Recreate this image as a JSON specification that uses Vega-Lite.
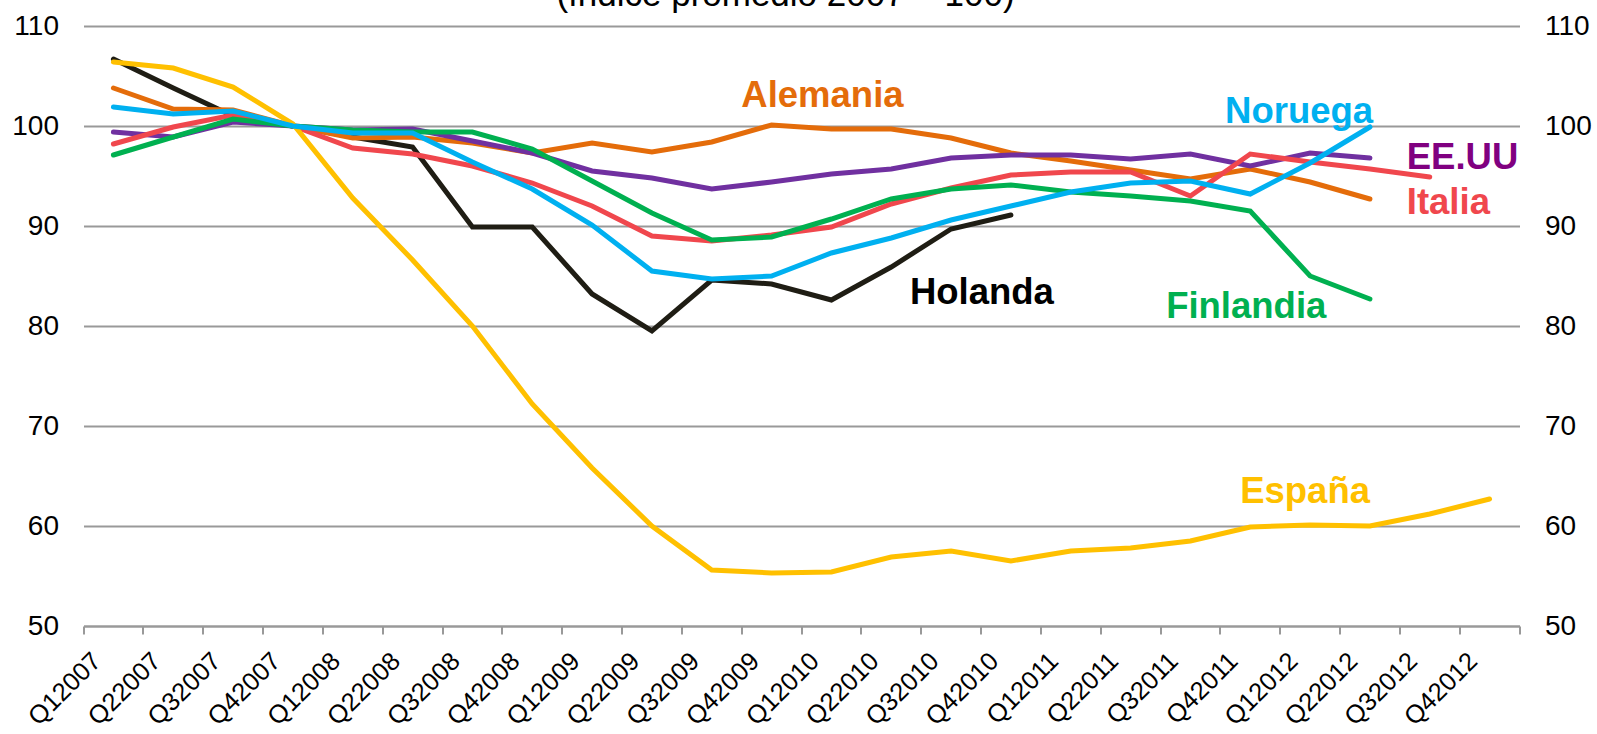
{
  "$schema": "https://vega.github.io/schema/vega-lite/v6.json",
  "width": 1436,
  "height": 600,
  "autosize": {"type": "none"},
  "padding": {"left": 83.5, "top": 26, "right": 77.5, "bottom": 108},
  "background": "#ffffff",
  "title": {"text": "(índice promedio 2007 = 100)", "font": "Liberation Sans", "fontSize": 35, "fontWeight": "normal", "color": "#000000", "anchor": "middle", "dx": -16, "offset": -1},
  "config": {
    "view": {"stroke": null},
    "axis": {"labelFont": "Liberation Sans", "labelColor": "#000000", "title": null}
  },
  "datasets": {
    "series": [
      {"p":"Holanda","q":"Q12007","v":106.7},{"p":"Holanda","q":"Q22007","v":103.8},{"p":"Holanda","q":"Q32007","v":101.0},{"p":"Holanda","q":"Q42007","v":100.0},{"p":"Holanda","q":"Q12008","v":98.9},{"p":"Holanda","q":"Q22008","v":97.9},{"p":"Holanda","q":"Q32008","v":89.9},{"p":"Holanda","q":"Q42008","v":89.9},{"p":"Holanda","q":"Q12009","v":83.2},{"p":"Holanda","q":"Q22009","v":79.5},{"p":"Holanda","q":"Q32009","v":84.6},{"p":"Holanda","q":"Q42009","v":84.2},{"p":"Holanda","q":"Q12010","v":82.6},{"p":"Holanda","q":"Q22010","v":85.9},{"p":"Holanda","q":"Q32010","v":89.7},{"p":"Holanda","q":"Q42010","v":91.1},
      {"p":"Alemania","q":"Q12007","v":103.8},{"p":"Alemania","q":"Q22007","v":101.7},{"p":"Alemania","q":"Q32007","v":101.6},{"p":"Alemania","q":"Q42007","v":100.0},{"p":"Alemania","q":"Q12008","v":98.8},{"p":"Alemania","q":"Q22008","v":98.9},{"p":"Alemania","q":"Q32008","v":98.3},{"p":"Alemania","q":"Q42008","v":97.3},{"p":"Alemania","q":"Q12009","v":98.3},{"p":"Alemania","q":"Q22009","v":97.4},{"p":"Alemania","q":"Q32009","v":98.4},{"p":"Alemania","q":"Q42009","v":100.1},{"p":"Alemania","q":"Q12010","v":99.7},{"p":"Alemania","q":"Q22010","v":99.7},{"p":"Alemania","q":"Q32010","v":98.8},{"p":"Alemania","q":"Q42010","v":97.3},{"p":"Alemania","q":"Q12011","v":96.5},{"p":"Alemania","q":"Q22011","v":95.6},{"p":"Alemania","q":"Q32011","v":94.7},{"p":"Alemania","q":"Q42011","v":95.7},{"p":"Alemania","q":"Q12012","v":94.4},{"p":"Alemania","q":"Q22012","v":92.7},
      {"p":"EE.UU","q":"Q12007","v":99.4},{"p":"EE.UU","q":"Q22007","v":98.9},{"p":"EE.UU","q":"Q32007","v":100.4},{"p":"EE.UU","q":"Q42007","v":100.0},{"p":"EE.UU","q":"Q12008","v":99.6},{"p":"EE.UU","q":"Q22008","v":99.7},{"p":"EE.UU","q":"Q32008","v":98.5},{"p":"EE.UU","q":"Q42008","v":97.3},{"p":"EE.UU","q":"Q12009","v":95.5},{"p":"EE.UU","q":"Q22009","v":94.8},{"p":"EE.UU","q":"Q32009","v":93.7},{"p":"EE.UU","q":"Q42009","v":94.4},{"p":"EE.UU","q":"Q12010","v":95.2},{"p":"EE.UU","q":"Q22010","v":95.7},{"p":"EE.UU","q":"Q32010","v":96.8},{"p":"EE.UU","q":"Q42010","v":97.1},{"p":"EE.UU","q":"Q12011","v":97.1},{"p":"EE.UU","q":"Q22011","v":96.7},{"p":"EE.UU","q":"Q32011","v":97.2},{"p":"EE.UU","q":"Q42011","v":96.0},{"p":"EE.UU","q":"Q12012","v":97.3},{"p":"EE.UU","q":"Q22012","v":96.8},
      {"p":"Italia","q":"Q12007","v":98.2},{"p":"Italia","q":"Q22007","v":99.9},{"p":"Italia","q":"Q32007","v":101.1},{"p":"Italia","q":"Q42007","v":100.0},{"p":"Italia","q":"Q12008","v":97.8},{"p":"Italia","q":"Q22008","v":97.2},{"p":"Italia","q":"Q32008","v":96.0},{"p":"Italia","q":"Q42008","v":94.3},{"p":"Italia","q":"Q12009","v":92.0},{"p":"Italia","q":"Q22009","v":89.0},{"p":"Italia","q":"Q32009","v":88.5},{"p":"Italia","q":"Q42009","v":89.1},{"p":"Italia","q":"Q12010","v":89.9},{"p":"Italia","q":"Q22010","v":92.2},{"p":"Italia","q":"Q32010","v":93.8},{"p":"Italia","q":"Q42010","v":95.1},{"p":"Italia","q":"Q12011","v":95.4},{"p":"Italia","q":"Q22011","v":95.4},{"p":"Italia","q":"Q32011","v":93.0},{"p":"Italia","q":"Q42011","v":97.2},{"p":"Italia","q":"Q12012","v":96.4},{"p":"Italia","q":"Q22012","v":95.7},{"p":"Italia","q":"Q32012","v":94.9},
      {"p":"Finlandia","q":"Q12007","v":97.1},{"p":"Finlandia","q":"Q22007","v":98.9},{"p":"Finlandia","q":"Q32007","v":100.7},{"p":"Finlandia","q":"Q42007","v":100.0},{"p":"Finlandia","q":"Q12008","v":99.6},{"p":"Finlandia","q":"Q22008","v":99.4},{"p":"Finlandia","q":"Q32008","v":99.4},{"p":"Finlandia","q":"Q42008","v":97.7},{"p":"Finlandia","q":"Q12009","v":94.5},{"p":"Finlandia","q":"Q22009","v":91.3},{"p":"Finlandia","q":"Q32009","v":88.6},{"p":"Finlandia","q":"Q42009","v":88.9},{"p":"Finlandia","q":"Q12010","v":90.7},{"p":"Finlandia","q":"Q22010","v":92.7},{"p":"Finlandia","q":"Q32010","v":93.7},{"p":"Finlandia","q":"Q42010","v":94.1},{"p":"Finlandia","q":"Q12011","v":93.4},{"p":"Finlandia","q":"Q22011","v":93.0},{"p":"Finlandia","q":"Q32011","v":92.5},{"p":"Finlandia","q":"Q42011","v":91.5},{"p":"Finlandia","q":"Q12012","v":85.0},{"p":"Finlandia","q":"Q22012","v":82.7},
      {"p":"España","q":"Q12007","v":106.4},{"p":"España","q":"Q22007","v":105.8},{"p":"España","q":"Q32007","v":103.9},{"p":"España","q":"Q42007","v":100.2},{"p":"España","q":"Q12008","v":92.8},{"p":"España","q":"Q22008","v":86.6},{"p":"España","q":"Q32008","v":80.0},{"p":"España","q":"Q42008","v":72.2},{"p":"España","q":"Q12009","v":65.8},{"p":"España","q":"Q22009","v":60.0},{"p":"España","q":"Q32009","v":55.6},{"p":"España","q":"Q42009","v":55.3},{"p":"España","q":"Q12010","v":55.4},{"p":"España","q":"Q22010","v":56.9},{"p":"España","q":"Q32010","v":57.5},{"p":"España","q":"Q42010","v":56.5},{"p":"España","q":"Q12011","v":57.5},{"p":"España","q":"Q22011","v":57.8},{"p":"España","q":"Q32011","v":58.5},{"p":"España","q":"Q42011","v":59.9},{"p":"España","q":"Q12012","v":60.1},{"p":"España","q":"Q22012","v":60.0},{"p":"España","q":"Q32012","v":61.2},{"p":"España","q":"Q42012","v":62.7},
      {"p":"Noruega","q":"Q12007","v":101.9},{"p":"Noruega","q":"Q22007","v":101.2},{"p":"Noruega","q":"Q32007","v":101.5},{"p":"Noruega","q":"Q42007","v":100.0},{"p":"Noruega","q":"Q12008","v":99.3},{"p":"Noruega","q":"Q22008","v":99.3},{"p":"Noruega","q":"Q32008","v":96.4},{"p":"Noruega","q":"Q42008","v":93.7},{"p":"Noruega","q":"Q12009","v":90.1},{"p":"Noruega","q":"Q22009","v":85.5},{"p":"Noruega","q":"Q32009","v":84.7},{"p":"Noruega","q":"Q42009","v":85.0},{"p":"Noruega","q":"Q12010","v":87.3},{"p":"Noruega","q":"Q22010","v":88.8},{"p":"Noruega","q":"Q32010","v":90.6},{"p":"Noruega","q":"Q42010","v":92.0},{"p":"Noruega","q":"Q12011","v":93.4},{"p":"Noruega","q":"Q22011","v":94.3},{"p":"Noruega","q":"Q32011","v":94.5},{"p":"Noruega","q":"Q42011","v":93.2},{"p":"Noruega","q":"Q12012","v":96.3},{"p":"Noruega","q":"Q22012","v":99.9}
    ],
    "labels": [
      {"p":"Alemania","q":"Q12010","v":101.9},
      {"p":"Noruega","q":"Q12012","v":100.3},
      {"p":"EE.UU","q":"Q32012","v":95.7},
      {"p":"Italia","q":"Q32012","v":91.2},
      {"p":"Holanda","q":"Q42010","v":82.2},
      {"p":"Finlandia","q":"Q42011","v":80.8},
      {"p":"España","q":"Q12012","v":62.3}
    ]
  },
  "encoding": {
    "x": {
      "field": "q", "type": "ordinal", "bandPosition": 0.5,
      "scale": {"type": "band", "paddingInner": 0, "paddingOuter": 0,
        "domain": ["Q12007","Q22007","Q32007","Q42007","Q12008","Q22008","Q32008","Q42008","Q12009","Q22009","Q32009","Q42009","Q12010","Q22010","Q32010","Q42010","Q12011","Q22011","Q32011","Q42011","Q12012","Q22012","Q32012","Q42012"]},
      "axis": {"orient": "bottom", "bandPosition": 1, "tickExtra": true, "grid": false, "domain": true, "domainColor": "#999999", "domainWidth": 2, "ticks": true, "tickColor": "#999999", "tickWidth": 2, "tickSize": 8, "labelAngle": -45, "labelAlign": "right", "labelBaseline": "top", "labelFontSize": 25.5, "labelOffset": -25, "labelPadding": 14, "labelOverlap": false, "labelBound": false, "labelFlush": false}
    },
    "y": {
      "field": "v", "type": "quantitative",
      "scale": {"domain": [50, 110], "nice": false, "zero": false},
      "axis": {"orient": "left", "values": [50,60,70,80,90,100,110], "grid": true, "gridColor": "#999999", "gridWidth": 2, "domain": false, "ticks": false, "tickSize": 0, "labelPadding": 25, "labelFontSize": 28}
    }
  },
  "resolve": {"axis": {"y": "independent"}},
  "layer": [
    {
      "data": {"name": "series"},
      "mark": {"type": "line", "strokeWidth": 5, "strokeCap": "round"},
      "encoding": {
        "stroke": {"field": "p", "type": "nominal", "legend": null,
          "scale": {"domain": ["Holanda","Alemania","EE.UU","Italia","Finlandia","España","Noruega"],
                    "range": ["#1F1D14","#E46C0A","#7030A0","#F0474D","#00B050","#FFC000","#00B0F0"]}}
      }
    },
    {
      "data": {"name": "series"},
      "mark": {"type": "point", "opacity": 0},
      "encoding": {
        "y": {"field": "v", "type": "quantitative", "scale": {"domain": [50, 110], "nice": false, "zero": false},
          "axis": {"orient": "right", "values": [50,60,70,80,90,100,110], "grid": false, "domain": false, "ticks": false, "tickSize": 0, "labelPadding": 25, "labelFontSize": 28}}
      }
    },
    {
      "data": {"name": "labels"},
      "transform": [{"filter": "datum.p === 'Alemania'"}],
      "mark": {"type": "text", "font": "Liberation Sans", "fontWeight": "bold", "fontSize": 36.5, "baseline": "alphabetic", "align": "center", "dx": -9, "color": "#E46C0A"},
      "encoding": {"text": {"field": "p"}, "y": {"field": "v", "type": "quantitative", "scale": {"domain": [50, 110], "nice": false, "zero": false}, "axis": null}}
    },
    {
      "data": {"name": "labels"},
      "transform": [{"filter": "datum.p === 'Noruega'"}],
      "mark": {"type": "text", "font": "Liberation Sans", "fontWeight": "bold", "fontSize": 36.5, "baseline": "alphabetic", "align": "center", "dx": -11, "color": "#00B0F0"},
      "encoding": {"text": {"field": "p"}, "y": {"field": "v", "type": "quantitative", "scale": {"domain": [50, 110], "nice": false, "zero": false}, "axis": null}}
    },
    {
      "data": {"name": "labels"},
      "transform": [{"filter": "datum.p === 'EE.UU'"}],
      "mark": {"type": "text", "font": "Liberation Sans", "fontWeight": "bold", "fontSize": 36.5, "baseline": "alphabetic", "align": "left", "dx": -23, "color": "#800080"},
      "encoding": {"text": {"field": "p"}, "y": {"field": "v", "type": "quantitative", "scale": {"domain": [50, 110], "nice": false, "zero": false}, "axis": null}}
    },
    {
      "data": {"name": "labels"},
      "transform": [{"filter": "datum.p === 'Italia'"}],
      "mark": {"type": "text", "font": "Liberation Sans", "fontWeight": "bold", "fontSize": 36.5, "baseline": "alphabetic", "align": "left", "dx": -23, "color": "#F0474D"},
      "encoding": {"text": {"field": "p"}, "y": {"field": "v", "type": "quantitative", "scale": {"domain": [50, 110], "nice": false, "zero": false}, "axis": null}}
    },
    {
      "data": {"name": "labels"},
      "transform": [{"filter": "datum.p === 'Holanda'"}],
      "mark": {"type": "text", "font": "Liberation Sans", "fontWeight": "bold", "fontSize": 36.5, "baseline": "alphabetic", "align": "center", "dx": -29, "color": "#000000"},
      "encoding": {"text": {"field": "p"}, "y": {"field": "v", "type": "quantitative", "scale": {"domain": [50, 110], "nice": false, "zero": false}, "axis": null}}
    },
    {
      "data": {"name": "labels"},
      "transform": [{"filter": "datum.p === 'Finlandia'"}],
      "mark": {"type": "text", "font": "Liberation Sans", "fontWeight": "bold", "fontSize": 36.5, "baseline": "alphabetic", "align": "center", "dx": -4, "color": "#00B050"},
      "encoding": {"text": {"field": "p"}, "y": {"field": "v", "type": "quantitative", "scale": {"domain": [50, 110], "nice": false, "zero": false}, "axis": null}}
    },
    {
      "data": {"name": "labels"},
      "transform": [{"filter": "datum.p === 'España'"}],
      "mark": {"type": "text", "font": "Liberation Sans", "fontWeight": "bold", "fontSize": 36.5, "baseline": "alphabetic", "align": "center", "dx": -5, "color": "#FFC000"},
      "encoding": {"text": {"field": "p"}, "y": {"field": "v", "type": "quantitative", "scale": {"domain": [50, 110], "nice": false, "zero": false}, "axis": null}}
    }
  ]
}
